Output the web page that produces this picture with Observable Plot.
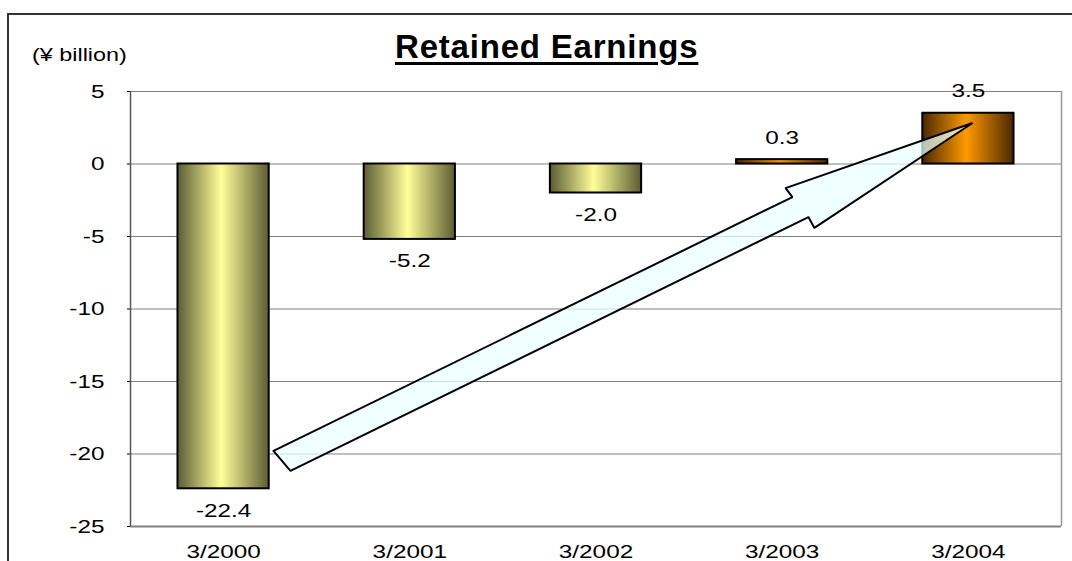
<!DOCTYPE html>
<html>
<head>
<meta charset="utf-8">
<script src="https://cdn.jsdelivr.net/npm/d3@7"></script>
<script src="https://cdn.jsdelivr.net/npm/@observablehq/plot@0.6"></script>
<style>
  body { margin: 0; background: #fff; }
  #wrap { position: relative; width: 1072px; height: 561px; overflow: hidden; font-family: "Liberation Sans", Arial, sans-serif; background: #fff; }
  #chart { position: absolute; left: 0; top: 0; }
  #frame { position: absolute; left: 7px; top: 13px; width: 1200px; height: 700px; border-left: 2px solid #333; border-top: 2px solid #333; pointer-events: none; }
  #title { position: absolute; left: 395px; top: 31px; font-size: 33px; line-height: 32px; font-weight: bold; letter-spacing: 0.8px; text-decoration: underline; text-decoration-thickness: 3px; text-underline-offset: 4px; color: #000; white-space: nowrap; }
  #unit { position: absolute; left: 32px; top: 44px; font-size: 19px; line-height: 22px; color: #000; transform: scaleX(1.23); transform-origin: left center; white-space: nowrap; }
</style>
</head>
<body>
<div id="wrap">
  <div id="chart"></div>
  <div id="frame"></div>
  <div id="title">Retained Earnings</div>
  <div id="unit">(¥ billion)</div>
</div>
<script>
// ---- data ----
const periods = ["3/2000", "3/2001", "3/2002", "3/2003", "3/2004"];
const earnings = [-22.4, -5.2, -2.0, 0.3, 3.5];
const yTicks = [-25, -20, -15, -10, -5, 0, 5];
// trend arrow outline (x in category index units, y in ¥ billion)
const arrowX = [0.268, 3.055, 3.018, 4.022, 3.173, 3.141, 0.359, 0.268];
const arrowY = [-19.79, -2.28, -1.66, 2.83, -4.41, -3.66, -21.17, -19.79];

const data = periods.map((p, i) => ({ i, p, v: earnings[i] }));
const arrow = arrowX.map((x, k) => ({ x, y: arrowY[k] }));
const neg = data.filter(d => d.v < 0);
const pos = data.filter(d => d.v >= 0);

const chart = Plot.plot({
  width: 1072,
  height: 561,
  marginLeft: 130,
  marginRight: 11,
  marginTop: 91,
  marginBottom: 35,
  style: { fontFamily: '"Liberation Sans", Arial, sans-serif', fontSize: "19px", color: "#000", background: "transparent" },
  x: { domain: [-0.5, 4.5], ticks: [0, 1, 2, 3, 4], tickFormat: i => periods[i], tickSize: 0, tickPadding: 18, label: null },
  y: { domain: [-25, 5], ticks: yTicks, tickFormat: d => String(d), tickSize: 3, tickPadding: 23, label: null },
  marks: [
    Plot.gridY(yTicks, { stroke: "#808080", strokeOpacity: 1, strokeWidth: 1.2 }),
    Plot.ruleY([-25], { stroke: "#808080", strokeWidth: 2 }),
    Plot.ruleX([-0.5], { stroke: "#555", strokeWidth: 1.5 }),
    Plot.ruleX([4.5], { stroke: "#999", strokeWidth: 1.5 }),
    Plot.rect(neg, { x1: d => d.i - 0.245, x2: d => d.i + 0.245, y1: 0, y2: "v", fill: "url(#gradYellow)", stroke: "#000", strokeWidth: 2 }),
    Plot.rect(pos, { x1: d => d.i - 0.245, x2: d => d.i + 0.245, y1: 0, y2: "v", fill: "url(#gradOrange)", stroke: "#000", strokeWidth: 2 }),
    Plot.line(arrow, { x: "x", y: "y", fill: "#eaffff", fillOpacity: 0.72, stroke: "#000", strokeWidth: 2, strokeLinejoin: "miter", curve: "linear" }),
    Plot.text(neg, { x: "i", y: "v", text: d => d.v.toFixed(1), dy: 22, fill: "#000" }),
    Plot.text(pos, { x: "i", y: "v", text: d => d.v.toFixed(1), dy: -22, fill: "#000" })
  ]
});

// gradient definitions for the cylinder-like bars
const ns = "http://www.w3.org/2000/svg";
const defs = document.createElementNS(ns, "defs");
function grad(id, edge, mid) {
  const g = document.createElementNS(ns, "linearGradient");
  g.setAttribute("id", id);
  g.setAttribute("x1", "0"); g.setAttribute("x2", "1");
  g.setAttribute("y1", "0"); g.setAttribute("y2", "0");
  [[0, edge], [0.48, mid], [1, edge]].forEach(([o, c]) => {
    const s = document.createElementNS(ns, "stop");
    s.setAttribute("offset", o);
    s.setAttribute("stop-color", c);
    g.appendChild(s);
  });
  defs.appendChild(g);
}
grad("gradYellow", "#5c5c34", "#ffff99");
grad("gradOrange", "#4a2800", "#ff9900");
chart.insertBefore(defs, chart.firstChild);

// widen small text to match the reference's broad glyphs
const S = 1.28;
chart.querySelectorAll("text").forEach(t => {
  const tr = t.getAttribute("transform") || "";
  const x = t.getAttribute("x");
  if (x != null) {
    t.setAttribute("transform", `translate(${x},0) ${tr} scale(${S},1)`);
    t.removeAttribute("x");
  } else {
    t.setAttribute("transform", `${tr} scale(${S},1)`);
  }
});

document.getElementById("chart").appendChild(chart);
</script>
</body>
</html>
